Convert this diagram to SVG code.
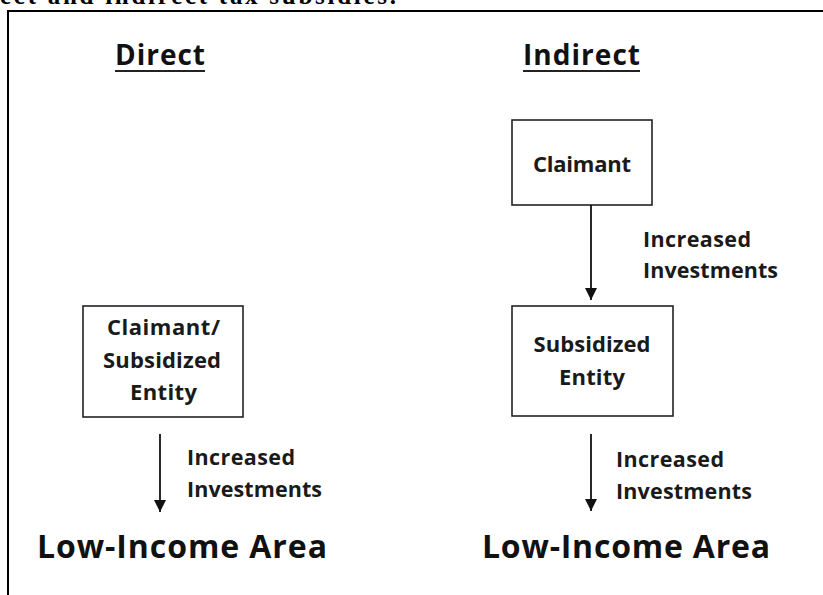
<svg xmlns="http://www.w3.org/2000/svg" width="823" height="595" viewBox="0 0 823 595">
  <defs>
    <style>
      .frame { fill: none; stroke: #000; stroke-width: 2; }
      .box { fill: #fff; stroke: #222; stroke-width: 1.6; }
      .head { font-family: "Open Sans", "Liberation Sans", sans-serif; font-weight: bold; font-size: 28px; fill: #111; }
      .ul { stroke: #222; stroke-width: 2.2; }
      .lbl { font-family: "Open Sans", "Liberation Sans", sans-serif; font-weight: bold; font-size: 22px; fill: #1a1a1a; text-anchor: middle; }
      .elbl { font-family: "Open Sans", "Liberation Sans", sans-serif; font-weight: bold; font-size: 21.5px; fill: #1a1a1a; }
      .area { font-family: "Open Sans", "Liberation Sans", sans-serif; font-weight: bold; font-size: 32px; fill: #111; }
      .cap { font-family: "Liberation Serif", serif; font-weight: bold; font-size: 25px; fill: #000; }
      .conn { stroke: #111; stroke-width: 1.8; fill: none; marker-end: url(#arr); }
    </style>
    <marker id="arr" viewBox="0 0 10 10" refX="10" refY="5" markerUnits="userSpaceOnUse" markerWidth="12" markerHeight="12" orient="auto">
      <path d="M0,0 L10,5 L0,10 z" fill="#111"/>
    </marker>
  </defs>
  <rect width="823" height="595" fill="#fff"/>
  <text class="cap" x="0" y="4" textLength="396">ect and indirect tax subsidies.</text>
  <path class="frame" d="M8,600 L8,11 L830,11"/>

  <g id="title-direct">
    <text class="head" x="115" y="65" textLength="90">Direct</text>
    <line class="ul" x1="115" y1="71" x2="205" y2="71"/>
  </g>
  <g id="title-indirect">
    <text class="head" x="523" y="65" textLength="117">Indirect</text>
    <line class="ul" x1="523" y1="71" x2="640" y2="71"/>
  </g>

  <g id="node-claimant-subsidized">
    <rect class="box" x="83" y="306" width="160" height="111"/>
    <text class="lbl" x="163.5" y="335" textLength="113">Claimant/</text>
    <text class="lbl" x="162" y="368" textLength="118">Subsidized</text>
    <text class="lbl" x="163.5" y="400" textLength="67">Entity</text>
  </g>

  <g id="node-claimant">
    <rect class="box" x="512" y="120" width="140" height="85"/>
    <text class="lbl" x="582" y="172" textLength="98">Claimant</text>
  </g>

  <g id="node-subsidized-entity">
    <rect class="box" x="512" y="306" width="161" height="110"/>
    <text class="lbl" x="592" y="352" textLength="117">Subsidized</text>
    <text class="lbl" x="592" y="385" textLength="66">Entity</text>
  </g>

  <g id="node-lowincome-left">
    <text class="area" x="37" y="558" textLength="290">Low-Income Area</text>
  </g>
  <g id="node-lowincome-right">
    <text class="area" x="482" y="558" textLength="288">Low-Income Area</text>
  </g>

  <g id="connectors">
    <line class="conn" x1="160" y1="434" x2="160" y2="512"/>
    <line class="conn" x1="591" y1="205" x2="591" y2="300"/>
    <line class="conn" x1="591" y1="434" x2="591" y2="511"/>
  </g>

  <g id="edge-labels">
    <text class="elbl" x="187" y="465" textLength="108">Increased</text>
    <text class="elbl" x="187" y="497" textLength="135">Investments</text>
    <text class="elbl" x="643" y="247" textLength="108">Increased</text>
    <text class="elbl" x="643" y="278" textLength="135">Investments</text>
    <text class="elbl" x="616" y="467" textLength="108">Increased</text>
    <text class="elbl" x="616" y="499" textLength="136">Investments</text>
  </g>
</svg>
